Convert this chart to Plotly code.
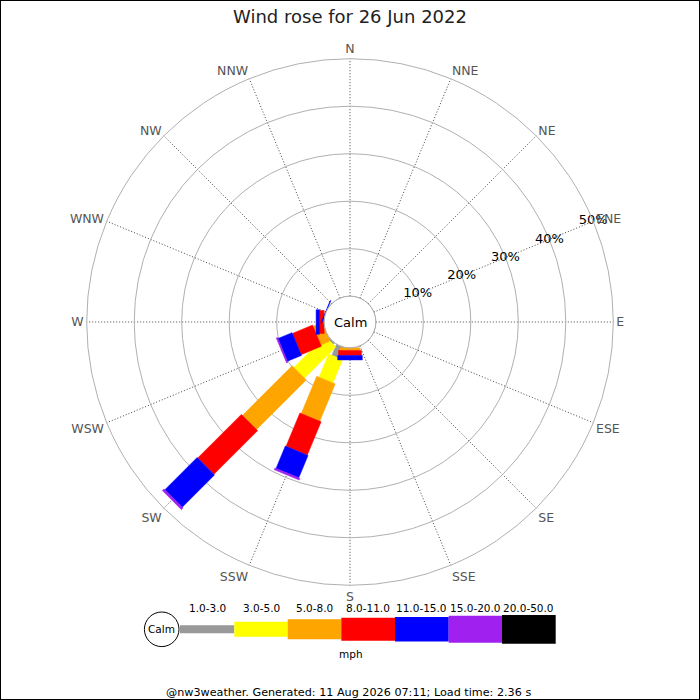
import math
import plotly.graph_objects as go

# Wind rose for 26 Jun 2022 (nw3weather), frequencies in % of readings
directions = ['N', 'NNE', 'NE', 'ENE', 'E', 'ESE', 'SE', 'SSE',
              'S', 'SSW', 'SW', 'WSW', 'W', 'WNW', 'NW', 'NNW']
bearings = [0, 22.5, 45, 67.5, 90, 112.5, 135, 157.5,
            180, 202.5, 225, 247.5, 270, 292.5, 315, 337.5]

speed_bins = ['1.0-3.0', '3.0-5.0', '5.0-8.0', '8.0-11.0',
              '11.0-15.0', '15.0-20.0', '20.0-50.0']
bin_colors = ['#999999', '#ffff00', '#ffa500', '#ff0000',
              '#0000ff', '#a020f0', '#000000']

#            N  NNE NE ENE E ESE SE SSE  S     SSW  SW    WSW  W    WNW  NW NNW
f_1_3 =    [0, 0, 0, 0, 0, 0, 0, 0, 0.0,  2.5, 0.4,  0.0, 0.0, 0.0,  0, 0]
f_3_5 =    [0, 0, 0, 0, 0, 0, 0, 0, 0.0,  5.3, 9.3,  0.0, 0.0, 0.0,  0, 0]
f_5_8 =    [0, 0, 0, 0, 0, 0, 0, 0, 0.55, 8.5, 14.8, 2.1, 0.0, 0.0,  0, 0]
f_8_11 =   [0, 0, 0, 0, 0, 0, 0, 0, 1.05, 7.6, 13.0, 4.6, 1.0, 0.0,  0, 0]
f_11_15 =  [0, 0, 0, 0, 0, 0, 0, 0, 0.95, 5.1, 9.6,  3.2, 0.7, 0.15, 0, 0]
f_15_20 =  [0, 0, 0, 0, 0, 0, 0, 0, 0.0,  0.4, 0.5,  0.3, 0.0, 0.0,  0, 0]
f_20_50 =  [0, 0, 0, 0, 0, 0, 0, 0, 0.0,  0.0, 0.0,  0.0, 0.0, 0.0,  0, 0]
freqs = [f_1_3, f_3_5, f_5_8, f_8_11, f_11_15, f_15_20, f_20_50]

radial_ticks = [10, 20, 30, 40, 50]
r_max = 50

# geometry (pixels) of the rose, used to keep the bars straight-sided
R_PX = 263.3
HOLE_PX = 25.8
bar_half_px = [4, 7.5, 10, 11.5, 12.3, 13.5, 14.3]
FONT = 'DejaVu Sans'
SCALE = (R_PX - HOLE_PX) / r_max


def px(x):
    return x / 700.0


def py(y):
    return 1 - y / 700.0


def corner(d_val, hw, bearing, side):
    # point of a straight-sided bar: d_val along the spoke, hw pixels to the side
    d = HOLE_PX + d_val * SCALE
    rad = math.hypot(d, hw)
    return (rad - HOLE_PX) / SCALE, bearing + side * math.degrees(math.atan(hw / d))


fig = go.Figure()

# stacked bars, each band drawn as a rectangle through the polar axes
cum = [0.0] * len(directions)
for k, vals in enumerate(freqs):
    for i, v in enumerate(vals):
        if v <= 0:
            continue
        hw = bar_half_px[k]
        pts = [corner(cum[i], hw, bearings[i], -1), corner(cum[i] + v, hw, bearings[i], -1),
               corner(cum[i] + v, hw, bearings[i], 1), corner(cum[i], hw, bearings[i], 1)]
        pts.append(pts[0])
        fig.add_trace(go.Scatterpolar(
            r=[p[0] for p in pts], theta=[p[1] for p in pts],
            mode='lines', fill='toself', fillcolor=bin_colors[k],
            line=dict(color=bin_colors[k], width=0.5),
            name=speed_bins[k], showlegend=False, hoverinfo='skip'))
        cum[i] += v

# calm circle
fig.add_trace(go.Scatterpolar(
    r=[0] * 73, theta=[i * 5 for i in range(73)], mode='lines',
    line=dict(color='#aaaaaa', width=1), showlegend=False, hoverinfo='skip'))

# radial tick labels along the ENE spoke
fig.add_trace(go.Scatterpolar(
    r=radial_ticks, theta=[67.5] * len(radial_ticks), mode='text',
    text=['%d%%' % t for t in radial_ticks],
    textfont=dict(family=FONT, size=13, color='black'),
    showlegend=False, hoverinfo='skip'))

fig.update_layout(
    width=700, height=700,
    margin=dict(l=0, r=0, t=0, b=0),
    paper_bgcolor='white',
    font=dict(family=FONT),
    title=dict(text='Wind rose for 26 Jun 2022', x=0.5, xanchor='center',
               y=py(17), yanchor='middle',
               font=dict(family=FONT, size=18, color='#222222')),
    polar=dict(
        domain=dict(x=[px(350 - R_PX), px(350 + R_PX)],
                    y=[1 - px(322 + R_PX), 1 - px(322 - R_PX)]),
        hole=HOLE_PX / R_PX,
        bgcolor='white',
        radialaxis=dict(range=[0, r_max], tickvals=radial_ticks,
                        showticklabels=False, ticks='', showline=False,
                        gridcolor='#b0b0b0', gridwidth=1, angle=22.5),
        angularaxis=dict(direction='clockwise', rotation=90,
                         tickmode='array', tickvals=bearings, ticktext=directions,
                         tickfont=dict(family=FONT, size=12.5, color='#555555'),
                         ticks='', showline=True, linecolor='#b0b0b0', linewidth=1,
                         gridcolor='#444444', griddash='1px,2px', gridwidth=1),
    ),
)

shapes = []
annotations = []


def label(x, y, text, size):
    annotations.append(dict(x=px(x), y=py(y), xref='paper', yref='paper', text=text,
                            xanchor='center', yanchor='middle', showarrow=False,
                            font=dict(family=FONT, size=size, color='black')))


label(350, 322, 'Calm', 13)

# legend at the bottom
key_edges = [180, 234.3, 287.7, 341.3, 395, 448.7, 502, 555.7]
key_heights = [8, 15, 20, 23, 24.6, 27, 28.7]
key_y = 629.3
shapes.append(dict(type='circle', xref='paper', yref='paper',
                   x0=px(161.7 - 17.3), x1=px(161.7 + 17.3),
                   y0=py(key_y + 17.3), y1=py(key_y - 17.3),
                   line=dict(color='black', width=1), fillcolor='white'))
label(161.7, key_y, 'Calm', 10.5)
for k, lab in enumerate(speed_bins):
    h = key_heights[k] / 2
    shapes.append(dict(type='rect', xref='paper', yref='paper',
                       x0=px(key_edges[k]), x1=px(key_edges[k + 1]),
                       y0=py(key_y + h), y1=py(key_y - h),
                       line=dict(width=0), fillcolor=bin_colors[k]))
    label((key_edges[k] + key_edges[k + 1]) / 2, 607.5, lab, 10.5)
label(351, 654, 'mph', 10.5)
label(348, 692, '@nw3weather. Generated: 11 Aug 2026 07:11; Load time: 2.36 s', 11.2)

# frame round the image
shapes.append(dict(type='rect', xref='paper', yref='paper', x0=0, x1=1, y0=0, y1=1,
                   line=dict(color='black', width=2)))

fig.update_layout(shapes=shapes, annotations=annotations)

fig.write_html('out.html', config={'displayModeBar': False},
               post_script="document.body.style.margin='0';")
